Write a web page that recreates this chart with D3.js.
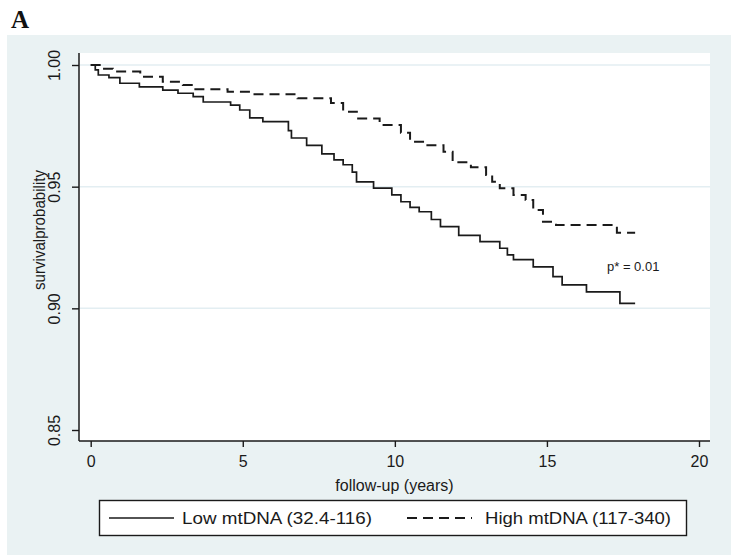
<!DOCTYPE html>
<html>
<head>
<meta charset="utf-8">
<script src="https://cdn.jsdelivr.net/npm/d3@7"></script>
<style>
  html, body { margin: 0; padding: 0; background: #ffffff; }
  svg { display: block; }
  text { font-family: "Liberation Sans", Arial, Helvetica, sans-serif; fill: #1a1a1a; }
</style>
</head>
<body>
<svg id="chart" width="731" height="555"></svg>
<script>
// ---- data ----
const lowTimes = [0, 0.15, 0.25, 0.6, 0.96, 1.6, 2.37, 2.87, 3.37, 3.7, 4.6, 4.9, 5.23, 5.66, 6.5, 6.6, 7.1, 7.6, 8.0, 8.3, 8.6, 8.74, 9.3, 9.9, 10.2, 10.5, 10.8, 11.2, 11.5, 12.1, 12.8, 13.45, 13.7, 13.9, 14.55, 15.2, 15.5, 16.3, 17.4, 17.9];
const lowSurv  = [1.000, 0.998, 0.9959, 0.9948, 0.9925, 0.991, 0.9897, 0.9884, 0.987, 0.9848, 0.9835, 0.9815, 0.9783, 0.9767, 0.973, 0.970, 0.967, 0.9635, 0.961, 0.959, 0.956, 0.952, 0.9494, 0.9466, 0.9438, 0.9415, 0.9397, 0.9365, 0.9336, 0.930, 0.9274, 0.9247, 0.922, 0.920, 0.917, 0.913, 0.9096, 0.9068, 0.902, 0.902];

const highTimes = [0, 0.4, 0.73, 1.63, 2.37, 3.03, 3.37, 4.5, 5.3, 6.8, 7.9, 8.3, 8.75, 9.5, 10.2, 10.5, 11.0, 11.6, 11.9, 12.5, 13.0, 13.2, 13.45, 13.9, 14.3, 14.55, 14.87, 15.3, 17.3, 17.9];
const highSurv  = [1.000, 0.9985, 0.9973, 0.9952, 0.9931, 0.9918, 0.990, 0.989, 0.988, 0.9863, 0.9844, 0.9808, 0.978, 0.9753, 0.9722, 0.9685, 0.967, 0.9644, 0.960, 0.958, 0.9548, 0.952, 0.9493, 0.9466, 0.9445, 0.9404, 0.9356, 0.9342, 0.9311, 0.9311];

const xTicks = [0, 5, 10, 15, 20];
const yTicks = [0.85, 0.90, 0.95, 1.00];
const yTickLabels = ["0.85", "0.90", "0.95", "1.00"];
const gridTicks = [0.90, 0.95, 1.00];
const seriesNames = ["Low mtDNA (32.4-116)", "High mtDNA (117-340)"];
const xTitle = "follow-up (years)";
const yTitle = "survivalprobability";
const panelLabel = "A";
const pText = "p* = 0.01";

// ---- layout ----
const svg = d3.select("#chart");
const bg = "#EAF2F3";
const plotL = 79, plotR = 710, plotT = 53, plotB = 441;

const x = d3.scaleLinear().domain([0, 20]).range([90.7, 699]);
const y = d3.scaleLinear().domain([0.85, 1.00]).range([430, 65]);

// outer background
svg.append("rect").attr("x", 7).attr("y", 35).attr("width", 731 - 7).attr("height", 555 - 35).attr("fill", bg);

// panel label
svg.append("text").attr("x", 11).attr("y", 28)
  .style("font-family", "'Liberation Serif', 'Times New Roman', serif")
  .style("font-weight", "bold").style("font-size", "25px").style("fill", "#111")
  .text(panelLabel);

// plot region
svg.append("rect").attr("x", plotL).attr("y", plotT).attr("width", plotR - plotL).attr("height", plotB - plotT).attr("fill", "#ffffff");

// gridlines
svg.append("g").selectAll("line").data(gridTicks).join("line")
  .attr("x1", plotL + 1).attr("x2", plotR)
  .attr("y1", d => y(d)).attr("y2", d => y(d))
  .attr("stroke", "#E3EEF2").attr("stroke-width", 1.5);

// x axis
const xAxis = d3.axisBottom(x).tickValues(xTicks).tickFormat(d3.format("d")).tickSize(6).tickPadding(9);
const gx = svg.append("g").attr("transform", `translate(0,${plotB})`).call(xAxis);
gx.select(".domain").remove();
gx.selectAll(".tick line").attr("stroke", "#1a1a1a").attr("stroke-width", 1.4);
gx.selectAll(".tick text").style("font-size", "16px").style("fill", "#1a1a1a")
  .style("font-family", "'Liberation Sans', Arial, sans-serif");
svg.append("line").attr("x1", plotL).attr("x2", plotR).attr("y1", plotB).attr("y2", plotB)
  .attr("stroke", "#1a1a1a").attr("stroke-width", 1.5);

// y axis
const yAxis = d3.axisLeft(y).tickValues(yTicks).tickFormat((d, i) => yTickLabels[i]).tickSize(7).tickPadding(0);
const gy = svg.append("g").attr("transform", `translate(${plotL},0)`).call(yAxis);
gy.select(".domain").remove();
gy.selectAll(".tick line").attr("stroke", "#1a1a1a").attr("stroke-width", 1.4);
gy.selectAll(".tick text")
  .attr("x", null).attr("dy", null)
  .attr("text-anchor", "middle")
  .attr("transform", "translate(-19,0) rotate(-90)")
  .style("font-size", "16px").style("fill", "#1a1a1a")
  .style("font-family", "'Liberation Sans', Arial, sans-serif");
svg.append("line").attr("x1", plotL).attr("x2", plotL).attr("y1", plotT).attr("y2", plotB)
  .attr("stroke", "#1a1a1a").attr("stroke-width", 1.5);

// axis titles
svg.append("text").attr("x", (plotL + plotR) / 2).attr("y", 491)
  .attr("text-anchor", "middle").style("font-size", "16px").text(xTitle);
svg.append("text")
  .attr("transform", `translate(45,230) rotate(-90)`)
  .attr("text-anchor", "middle").style("font-size", "16px")
  .attr("textLength", 120).attr("lengthAdjust", "spacingAndGlyphs")
  .text(yTitle);

// curves
const line = d3.line().x(d => x(d[0])).y(d => y(d[1])).curve(d3.curveStepAfter);
const lowData = lowTimes.map((t, i) => [t, lowSurv[i]]);
const highData = highTimes.map((t, i) => [t, highSurv[i]]);

svg.append("path").datum(highData).attr("d", line)
  .attr("fill", "none").attr("stroke", "#1a1a1a").attr("stroke-width", 2)
  .attr("stroke-dasharray", "10,6");
svg.append("path").datum(lowData).attr("d", line)
  .attr("fill", "none").attr("stroke", "#1a1a1a").attr("stroke-width", 1.7);

// p value
svg.append("text").attr("x", 607).attr("y", 271).style("font-size", "13px").text(pText);

// legend
const lg = svg.append("g");
lg.append("rect").attr("x", 99.5).attr("y", 500.5).attr("width", 587).attr("height", 35)
  .attr("fill", "#ffffff").attr("stroke", "#1a1a1a").attr("stroke-width", 1.4);
const legendItems = [
  {name: seriesNames[0], x0: 109, x1: 174, tx: 182, dash: null, tw: 190},
  {name: seriesNames[1], x0: 407, x1: 472, tx: 485, dash: "10,6", tw: 186}
];
legendItems.forEach(it => {
  lg.append("line").attr("x1", it.x0).attr("x2", it.x1).attr("y1", 518).attr("y2", 518)
    .attr("stroke", "#1a1a1a").attr("stroke-width", it.dash ? 2 : 1.7)
    .attr("stroke-dasharray", it.dash);
  lg.append("text").attr("x", it.tx).attr("y", 524).style("font-size", "17px")
    .attr("textLength", it.tw).attr("lengthAdjust", "spacingAndGlyphs")
    .text(it.name);
});
</script>
</body>
</html>
